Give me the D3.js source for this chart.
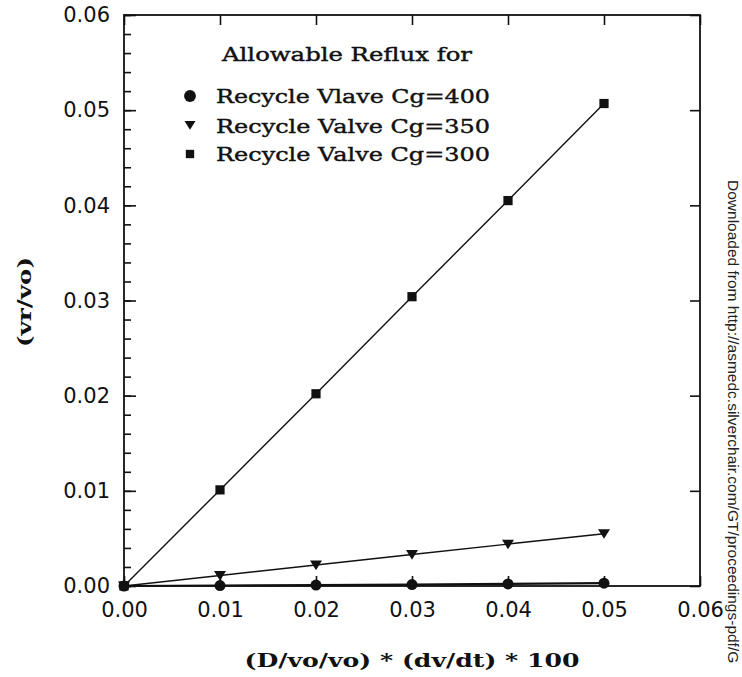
<!DOCTYPE html>
<html>
<head>
<meta charset="utf-8">
<script src="https://cdn.jsdelivr.net/npm/d3@7"></script>
<style>
  html, body { margin: 0; padding: 0; background: #fff; }
  svg { display: block; }
</style>
</head>
<body>
<svg id="chart" width="742" height="677"></svg>
<script>
// Allowable reflux vs. normalised flow-rate change, for three recycle valve sizes
const xValues = [0.00, 0.01, 0.02, 0.03, 0.04, 0.05];
const cg400 = [0.0, 0.00005, 0.0001, 0.00015, 0.00022, 0.0003];
const cg350 = [0.0, 0.0011, 0.0022, 0.0033, 0.0044, 0.0055];
const cg300 = [0.0, 0.0101, 0.0202, 0.0304, 0.0405, 0.0507];
const tickValues = [0.00, 0.01, 0.02, 0.03, 0.04, 0.05, 0.06];
const legendTitle = "Allowable Reflux for";
const seriesNames = ["Recycle Vlave Cg=400", "Recycle Valve Cg=350", "Recycle Valve Cg=300"];
const xTitle = "(D/vo/vo) * (dv/dt) * 100";
const yTitle = "(vr/vo)";
const sideNote = "Downloaded from http://asmedc.silverchair.com/GT/proceedings-pdf/G";

(function () {
const series = [
  { name: seriesNames[0], values: cg400, symbol: d3.symbolCircle, size: 95, lw: 2.2 },
  { name: seriesNames[1], values: cg350, symbol: "tri", size: 0, lw: 1.5 },
  { name: seriesNames[2], values: cg300, symbol: d3.symbolSquare, size: 85, lw: 1.4 }
];

const svg = d3.select("#chart");
const pLeft = 124, pRight = 700, pTop = 15, pBottom = 586;
const x = d3.scaleLinear().domain([0, 0.06]).range([pLeft, pRight]);
const y = d3.scaleLinear().domain([0, 0.06]).range([pBottom, pTop]);

const tickFont = "'DejaVu Sans', sans-serif";
const serifFont = "'DejaVu Serif', serif";
const fmt = d3.format(".2f");

// Frame axes: ticks point inward on all four sides
const axisGroup = svg.append("g").attr("class", "axes");

// left axis: major + minor ticks
const yMinor = d3.range(0, 0.0601, 0.002);
axisGroup.append("g")
  .attr("transform", `translate(${pLeft},0)`)
  .call(d3.axisRight(y).tickValues(yMinor).tickSize(7).tickFormat(""))
  .call(g => g.select(".domain").remove());
axisGroup.append("g")
  .attr("transform", `translate(${pLeft},0)`)
  .call(d3.axisRight(y).tickValues(tickValues).tickSize(12).tickFormat(""))
  .call(g => g.select(".domain").remove());
// left labels
axisGroup.append("g")
  .attr("transform", `translate(${pLeft},0)`)
  .call(d3.axisLeft(y).tickValues(tickValues).tickSize(0).tickPadding(14).tickFormat(fmt))
  .call(g => g.select(".domain").remove())
  .call(g => g.selectAll("text").attr("font-family", tickFont).attr("font-size", 21).attr("fill", "#111"));

// right axis ticks
axisGroup.append("g")
  .attr("transform", `translate(${pRight},0)`)
  .call(d3.axisLeft(y).tickValues(tickValues).tickSize(10).tickFormat(""))
  .call(g => g.select(".domain").remove());

// top axis ticks
axisGroup.append("g")
  .attr("transform", `translate(0,${pTop})`)
  .call(d3.axisBottom(x).tickValues(tickValues).tickSize(10).tickFormat(""))
  .call(g => g.select(".domain").remove());

// bottom axis ticks + labels
axisGroup.append("g")
  .attr("transform", `translate(0,${pBottom})`)
  .call(d3.axisTop(x).tickValues(tickValues).tickSize(10).tickFormat(""))
  .call(g => g.select(".domain").remove());
axisGroup.append("g")
  .attr("transform", `translate(0,${pBottom})`)
  .call(d3.axisBottom(x).tickValues(tickValues).tickSize(0).tickPadding(16).tickFormat(fmt))
  .call(g => g.select(".domain").remove())
  .call(g => g.selectAll("text").attr("font-family", tickFont).attr("font-size", 21).attr("fill", "#111"));

axisGroup.selectAll(".tick line").attr("stroke", "#111").attr("stroke-width", 1.6);

// frame
svg.append("rect")
  .attr("x", pLeft).attr("y", pTop)
  .attr("width", pRight - pLeft).attr("height", pBottom - pTop)
  .attr("fill", "none").attr("stroke", "#111").attr("stroke-width", 1.8);

// down-pointing triangle
function triPath(cx, cy, s) {
  return `M${cx - s},${cy - s * 0.75}L${cx + s},${cy - s * 0.75}L${cx},${cy + s * 0.85}Z`;
}
function markerPath(sym, size) {
  return d3.symbol().type(sym).size(size)();
}

const line = d3.line().x((d, i) => x(xValues[i])).y(d => y(d));

const plot = svg.append("g");
series.forEach(s => {
  plot.append("path")
    .attr("d", line(s.values))
    .attr("fill", "none").attr("stroke", "#111").attr("stroke-width", s.lw);
  const g = plot.append("g");
  s.values.forEach((v, i) => {
    const cx = x(xValues[i]), cy = y(v);
    if (s.symbol === "tri") {
      g.append("path").attr("d", triPath(cx, cy, 6)).attr("fill", "#111");
    } else {
      g.append("path").attr("d", markerPath(s.symbol, s.size))
        .attr("transform", `translate(${cx},${cy})`).attr("fill", "#111");
    }
  });
});

// legend
const legend = svg.append("g");
legend.append("text")
  .attr("x", 222).attr("y", 61)
  .attr("font-family", serifFont).attr("font-size", 18)
  .attr("stroke", "#111").attr("stroke-width", 0.4)
  .attr("textLength", 250).attr("lengthAdjust", "spacingAndGlyphs")
  .attr("fill", "#111").text(legendTitle);
const rowY = [96, 126, 154];
series.forEach((s, i) => {
  const cy = rowY[i], cx = 190;
  if (s.symbol === "tri") {
    legend.append("path").attr("d", triPath(cx, cy - 1, 5.5)).attr("fill", "#111");
  } else {
    legend.append("path").attr("d", markerPath(s.symbol, s.symbol === d3.symbolSquare ? 70 : 110))
      .attr("transform", `translate(${cx},${cy})`).attr("fill", "#111");
  }
  legend.append("text")
    .attr("x", 216).attr("y", cy + 6.5)
    .attr("font-family", serifFont).attr("font-size", 18)
    .attr("stroke", "#111").attr("stroke-width", 0.4)
    .attr("textLength", 274).attr("lengthAdjust", "spacingAndGlyphs")
    .attr("fill", "#111").text(s.name);
});

// axis titles
svg.append("text")
  .attr("x", 412).attr("y", 667)
  .attr("text-anchor", "middle")
  .attr("font-family", serifFont).attr("font-size", 19).attr("font-weight", "bold")
  .attr("textLength", 335).attr("lengthAdjust", "spacingAndGlyphs")
  .attr("fill", "#111").text(xTitle);

svg.append("text")
  .attr("transform", "translate(31,302) rotate(-90)")
  .attr("text-anchor", "middle")
  .attr("font-family", serifFont).attr("font-size", 19).attr("font-weight", "bold")
  .attr("textLength", 90).attr("lengthAdjust", "spacingAndGlyphs")
  .attr("fill", "#111").text(yTitle);

// side note
svg.append("text")
  .attr("transform", "translate(728,180) rotate(90)")
  .attr("font-family", "'Liberation Sans', Arial, sans-serif").attr("font-size", 15.5)
  .attr("fill", "#222").text(sideNote);
})();
</script>
</body>
</html>
